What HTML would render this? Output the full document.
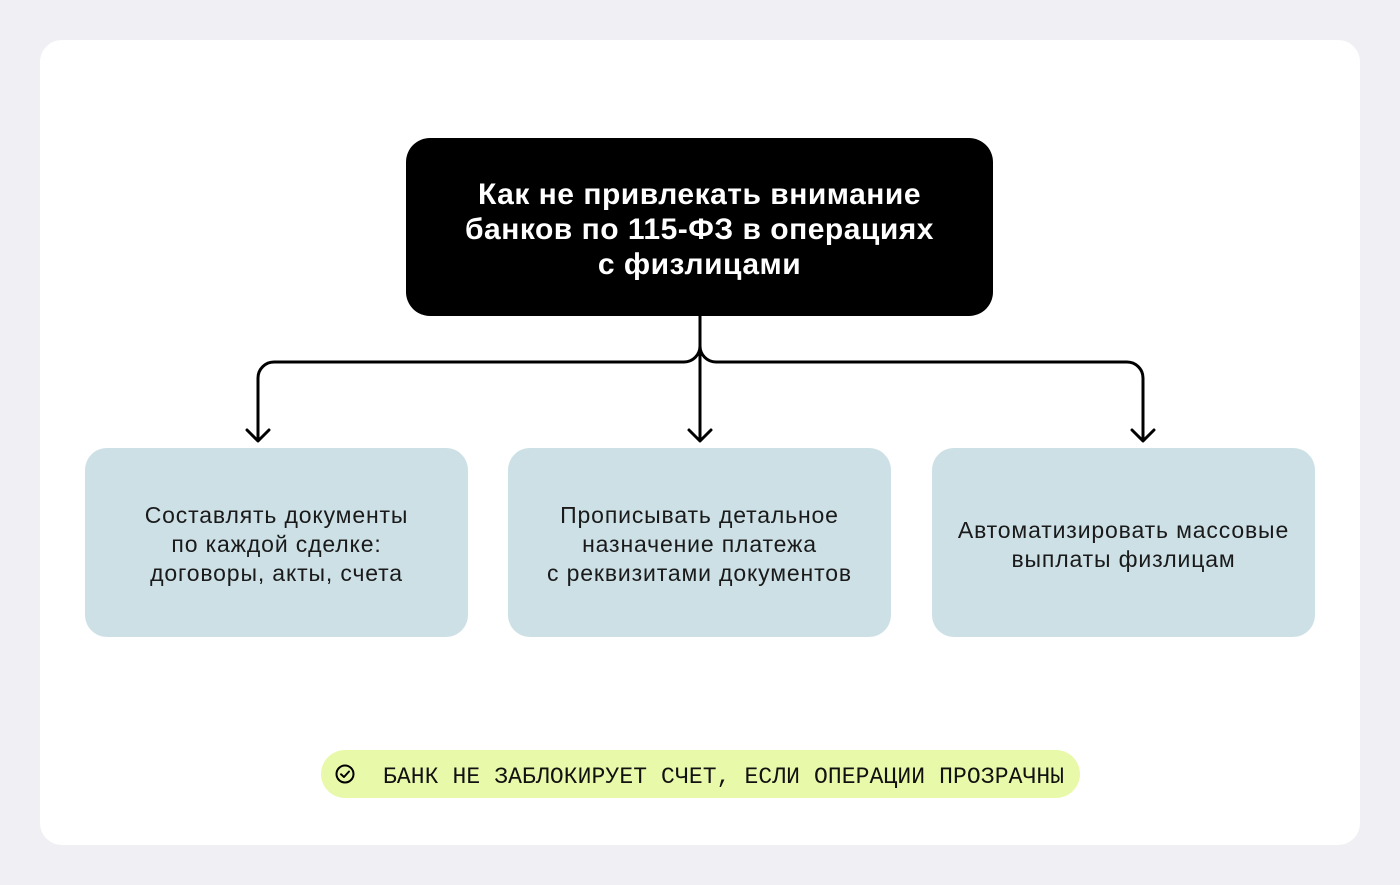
<!DOCTYPE html>
<html><head><meta charset="utf-8">
<style>
html,body{margin:0;padding:0;}
body{width:1400px;height:885px;background:#f0f0f4;position:relative;overflow:hidden;font-family:"Liberation Sans","DejaVu Sans",sans-serif;}
.card{position:absolute;left:40px;top:40px;width:1320px;height:805px;background:#fff;border-radius:22px;}
.title{position:absolute;left:406px;top:138px;width:587px;height:178px;background:#000;border-radius:24px;color:#fff;display:flex;align-items:center;justify-content:center;text-align:center;font-weight:bold;font-size:30px;line-height:35px;letter-spacing:0.5px;box-sizing:border-box;padding-top:4px;}
.box{position:absolute;top:448px;width:383px;height:189px;background:#cce0e6;border-radius:22px;display:flex;align-items:center;justify-content:center;text-align:center;color:#1a1a1a;font-size:23px;line-height:29px;letter-spacing:0.85px;box-sizing:border-box;padding-top:4px;}
.pill{position:absolute;left:321px;top:750px;width:759px;height:48px;background:#e9f9aa;border-radius:24px;}
.ptxt{position:absolute;left:62px;top:2px;height:48px;line-height:50px;font-family:"Liberation Mono","DejaVu Sans Mono",monospace;font-size:23px;letter-spacing:0.1px;color:#111;white-space:nowrap;}
svg{position:absolute;left:0;top:0;}
</style></head><body>
<div class="card"></div>
<div class="title"><div>Как не привлекать внимание<br>банков по 115-ФЗ в операциях<br>с физлицами</div></div>
<svg width="1400" height="885" viewBox="0 0 1400 885">
<g fill="none" stroke="#000" stroke-width="3" stroke-linecap="round" stroke-linejoin="round">
<path d="M700 316 V440"/>
<path d="M700 346 A16 16 0 0 1 684 362 H274 A16 16 0 0 0 258 378 V440"/>
<path d="M700 346 A16 16 0 0 0 716 362 H1127 A16 16 0 0 1 1143 378 V440"/>
<path d="M247 430 L258 441 L269 430"/>
<path d="M689 430 L700 441 L711 430"/>
<path d="M1132 430 L1143 441 L1154 430"/>
</g>
</svg>
<div class="box" style="left:85px;"><div>Составлять документы<br>по каждой сделке:<br>договоры, акты, счета</div></div>
<div class="box" style="left:508px;"><div>Прописывать детальное<br>назначение платежа<br>с реквизитами документов</div></div>
<div class="box" style="left:932px;"><div>Автоматизировать массовые<br>выплаты физлицам</div></div>
<div class="pill">
<svg width="40" height="48" viewBox="0 0 40 48" style="left:4px;top:0;">
<circle cx="20" cy="24" r="8.5" fill="none" stroke="#000" stroke-width="2"/>
<path d="M16 24.3 L19 27 L24 21.5" fill="none" stroke="#000" stroke-width="2" stroke-linecap="round" stroke-linejoin="round"/>
</svg>
<div class="ptxt">БАНК НЕ ЗАБЛОКИРУЕТ СЧЕТ, ЕСЛИ ОПЕРАЦИИ ПРОЗРАЧНЫ</div>
</div>
</body></html>
